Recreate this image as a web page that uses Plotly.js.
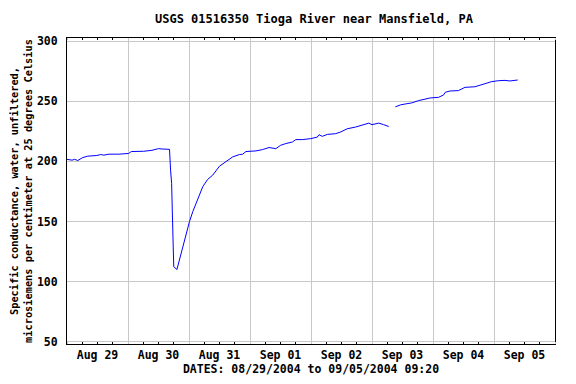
<!DOCTYPE html>
<html>
<head>
<meta charset="utf-8">
<script src="https://cdn.plot.ly/plotly-3.0.1.min.js"></script>
<style>html,body{margin:0;padding:0;background:#fff;}#chart{width:576px;height:384px;}</style>
</head>
<body>
<div id="chart"></div>
<script>
// Specific conductance readings (microsiemens/cm at 25 C)
const times = [
  "2004-08-29 00:00","2004-08-29 02:00","2004-08-29 03:00","2004-08-29 04:15","2004-08-29 06:00",
  "2004-08-29 08:00","2004-08-29 11:45","2004-08-29 13:15","2004-08-29 14:30","2004-08-29 16:30",
  "2004-08-29 20:30","2004-08-30 00:15","2004-08-30 01:20","2004-08-30 06:10","2004-08-30 09:25",
  "2004-08-30 12:00","2004-08-30 13:20","2004-08-30 16:00","2004-08-30 16:20","2004-08-30 16:45",
  "2004-08-30 17:10","2004-08-30 17:25","2004-08-30 17:40","2004-08-30 18:00","2004-08-30 19:15",
  "2004-08-30 20:15","2004-08-30 21:35","2004-08-30 22:55","2004-08-31 00:12","2004-08-31 01:30",
  "2004-08-31 03:25","2004-08-31 05:25","2004-08-31 07:20","2004-08-31 09:20","2004-08-31 12:00",
  "2004-08-31 14:35","2004-08-31 17:10","2004-08-31 19:50","2004-08-31 21:05","2004-08-31 22:25",
  "2004-09-01 02:20","2004-09-01 04:55","2004-09-01 07:30","2004-09-01 10:10","2004-09-01 12:05",
  "2004-09-01 14:05","2004-09-01 16:40","2004-09-01 18:00","2004-09-01 20:35","2004-09-01 23:55",
  "2004-09-02 02:30","2004-09-02 03:10","2004-09-02 04:25","2004-09-02 06:25","2004-09-02 09:40",
  "2004-09-02 11:40","2004-09-02 14:15","2004-09-02 17:30","2004-09-02 20:05","2004-09-02 22:45",
  "2004-09-03 00:00","2004-09-03 02:40","2004-09-03 04:35","2004-09-03 06:35",
  "2004-09-03 07:50",
  "2004-09-03 09:10","2004-09-03 11:10","2004-09-03 13:05","2004-09-03 15:40","2004-09-03 18:20",
  "2004-09-03 20:55","2004-09-03 22:55","2004-09-04 02:10","2004-09-04 04:10","2004-09-04 04:50",
  "2004-09-04 06:45","2004-09-04 10:00","2004-09-04 12:35","2004-09-04 16:30","2004-09-04 17:50",
  "2004-09-04 20:25","2004-09-04 23:00","2004-09-05 01:40","2004-09-05 04:20","2004-09-05 06:15",
  "2004-09-05 09:20"
];
const conductance = [
  201.7,201.0,201.7,200.7,203.0,
  204.3,204.9,205.7,205.2,206.0,
  206.0,206.6,208.2,208.4,209.2,
  210.6,210.3,209.8,210.0,192.7,
  181.7,159.7,128.0,112.5,110.2,
  118.5,128.0,139.0,150.1,158.3,
  168.0,179.0,185.0,188.6,196.0,
  199.6,203.7,205.7,205.9,208.2,
  208.7,209.8,211.5,210.6,213.4,
  214.8,216.1,218.1,218.1,218.9,
  220.2,222.2,220.8,222.4,223.0,
  224.4,227.1,228.5,229.9,231.8,
  230.5,231.8,230.5,229.0,
  null,
  245.3,246.9,247.7,248.6,250.5,
  251.9,252.7,253.2,255.2,257.4,
  258.5,258.8,261.5,262.0,262.9,
  264.3,266.2,267.0,267.3,266.8,
  267.6
];

const yTicks = [50, 100, 150, 200, 250, 300];
const titleText = "USGS 01516350 Tioga River near Mansfield, PA";
const xTitleText = "DATES: 08/29/2004 to 09/05/2004 09:20";
const yTitleText = "Specific conductance, water, unfiltered,<br>microsiemens per centimeter at 25 degrees Celsius";

const fam = "DejaVu Sans Mono, monospace";

Plotly.newPlot("chart", [{
  x: times,
  y: conductance,
  type: "scatter",
  mode: "lines",
  connectgaps: false,
  line: {color: "#0000ff", width: 1},
  hoverinfo: "skip"
}], {
  width: 576, height: 384,
  margin: {l: 67, r: 21, t: 38, b: 40},
  paper_bgcolor: "#ffffff",
  plot_bgcolor: "#ffffff",
  showlegend: false,
  title: {text: "<b>" + titleText + "</b>", font: {family: fam, size: 12, color: "#000"},
          x: 0.545, xref: "container", y: 0.95, yref: "container", yanchor: "middle"},
  xaxis: {
    type: "date",
    range: ["2004-08-29 00:00", "2004-09-06 00:00"],
    dtick: 86400000,
    tick0: "2004-08-29 00:00",
    tickformat: "%b %d",
    ticklabelmode: "period",
    ticks: "inside", ticklen: 2, tickcolor: "#c8c8c8",
    showgrid: true, gridcolor: "#c8c8c8", gridwidth: 1,
    showline: true, linecolor: "#000", linewidth: 1, mirror: "allticks",
    minor: {dtick: 21600000, tick0: "2004-08-29 00:00", ticks: "inside", ticklen: 2, tickcolor: "#000", tickwidth: 1, showgrid: false},
    tickfont: {family: fam, size: 11.5, color: "#000", weight: "bold"},
    title: {text: "<b>" + xTitleText + "</b>", font: {family: fam, size: 11.5, color: "#000"}, standoff: 3},
    zeroline: false
  },
  yaxis: {
    range: [48.3, 302.5],
    tickvals: yTicks,
    ticktext: yTicks.map(String),
    ticks: "",
    showgrid: true, gridcolor: "#c8c8c8", gridwidth: 1,
    showline: true, linecolor: "#000", linewidth: 1, mirror: true,
    tickfont: {family: fam, size: 11.5, color: "#000", weight: "bold"},
    ticklabelstandoff: 6,
    title: {text: "<b>" + yTitleText + "</b>", font: {family: fam, size: 10.3, color: "#000"}, standoff: 2},
    zeroline: false
  }
}, {staticPlot: true, displayModeBar: false});
</script>
</body>
</html>
